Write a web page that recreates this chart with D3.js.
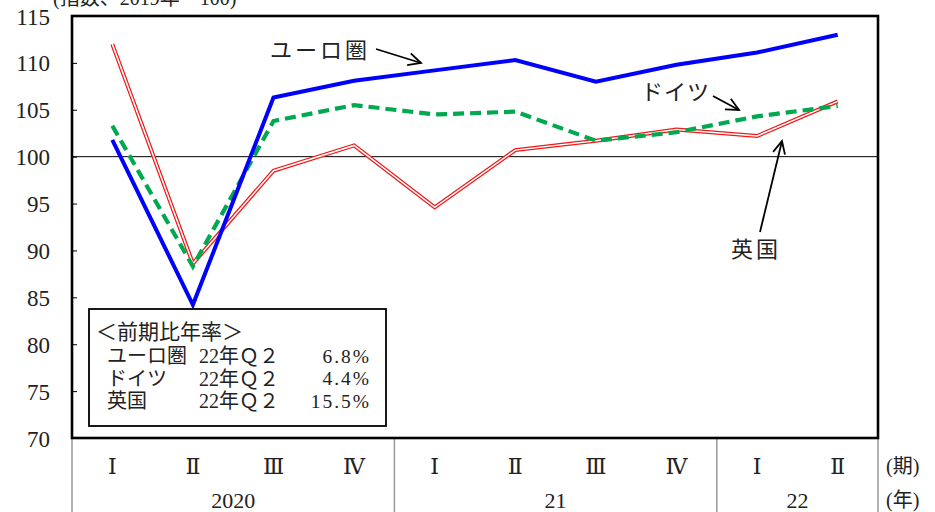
<!DOCTYPE html>
<html><head><meta charset="utf-8">
<script src="https://cdn.jsdelivr.net/npm/d3@7"></script>
<style>
body{margin:0;background:#fff;}
svg{display:block;}
text{font-family:"Liberation Serif","Noto Sans CJK JP",serif;fill:#222;}
.jp{font-family:"Noto Sans CJK JP",sans-serif;}
.mix{font-family:"Liberation Serif","Noto Sans CJK JP",serif;}
.tick text{font-family:"Liberation Serif",serif !important;font-size:23px !important;}
</style></head><body>
<svg id="c" width="935" height="512"></svg>
<script>
const quarters = ["Ⅰ","Ⅱ","Ⅲ","Ⅳ","Ⅰ","Ⅱ","Ⅲ","Ⅳ","Ⅰ","Ⅱ"];
const years = [{label:"2020",from:0,to:3},{label:"21",from:4,to:7},{label:"22",from:8,to:9}];
const euro    = [101.8, 84.2, 106.3, 108.1, 109.2, 110.3, 108.0, 109.8, 111.1, 113.0];
const germany = [103.3, 88.3, 103.8, 105.5, 104.5, 104.8, 101.7, 102.6, 104.3, 105.4];
const uk      = [112.0, 88.6, 98.5, 101.2, 94.6, 100.7, 101.7, 102.9, 102.2, 105.9];
const yTicks = [70,75,80,85,90,95,100,105,110,115];
const legendRows = [
  {name:"ユーロ圏", period:"22年Ｑ２", value:"6.8%"},
  {name:"ドイツ", period:"22年Ｑ２", value:"4.4%"},
  {name:"英国", period:"22年Ｑ２", value:"15.5%"}
];

const svg = d3.select("#c");
const L=72, R=878, T=16, B=438;
const x = d3.scaleBand().domain(d3.range(quarters.length)).range([L,R]).padding(0);
const cx = i => x(i) + x.bandwidth()/2;
const y = d3.scaleLinear().domain([70,115]).range([B,T]);

// y label (partly off top, as in the reference)
svg.append("text").attr("class","mix").attr("x",53).attr("y",5).attr("font-size",20).text("(指数、2019年＝100)");

// 100 line
svg.append("line").attr("x1",L).attr("x2",R).attr("y1",y(100)).attr("y2",y(100)).attr("stroke","#000").attr("stroke-width",1);

// y axis
const ya = svg.append("g").attr("transform",`translate(${L},0)`)
  .call(d3.axisLeft(y).tickValues(yTicks).tickSizeInner(-5).tickSizeOuter(0).tickPadding(22));
ya.attr("font-family",null).attr("font-size",null);
ya.select(".domain").remove();
ya.selectAll(".tick line").attr("stroke","#000");
ya.selectAll(".tick text").attr("fill","#222").attr("dy","0.35em");

// x axis area
const g = svg.append("g");
[L, x(4), x(8), R].forEach(v=>{
  g.append("line").attr("x1",v).attr("x2",v).attr("y1",B).attr("y2",512).attr("stroke","#999").attr("stroke-width",1.5);
});
g.selectAll("text.q").data(quarters).join("text").attr("class","q")
  .attr("x",(d,i)=>cx(i)).attr("y",466).attr("dy","0.35em").attr("text-anchor","middle")
  .attr("font-size",22).style("font-family","'DejaVu Serif',serif").text(d=>d);
g.selectAll("text.yr").data(years).join("text").attr("class","yr")
  .attr("x",d=>(cx(d.from)+cx(d.to))/2).attr("y",500).attr("dy","0.35em").attr("text-anchor","middle")
  .attr("font-size",22).text(d=>d.label);
svg.append("text").attr("class","mix").attr("x",886).attr("y",466).attr("dy","0.35em").attr("font-size",20).text("(期)");
svg.append("text").attr("class","mix").attr("x",886).attr("y",500).attr("dy","0.35em").attr("font-size",20).text("(年)");

// lines
const line = d3.line().x((d,i)=>cx(i)).y(d=>y(d));
svg.append("path").datum(uk).attr("d",line).attr("fill","none").attr("stroke","#f01818").attr("stroke-width",4).attr("stroke-linejoin","miter");
svg.append("path").datum(uk).attr("d",line).attr("fill","none").attr("stroke","#fff").attr("stroke-width",1.5).attr("stroke-linejoin","miter");
svg.append("path").datum(germany).attr("d",line).attr("fill","none").attr("stroke","#00a84f").attr("stroke-width",4.2).attr("stroke-dasharray","11,6");
svg.append("path").datum(euro).attr("d",line).attr("fill","none").attr("stroke","#0000ff").attr("stroke-width",4);

// frame
svg.append("rect").attr("x",L).attr("y",T).attr("width",R-L).attr("height",B-T).attr("fill","none").attr("stroke","#000").attr("stroke-width",2.6);

// annotations
function arrow(x1,y1,x2,y2){
  svg.append("line").attr("x1",x1).attr("y1",y1).attr("x2",x2).attr("y2",y2).attr("stroke","#000").attr("stroke-width",1.8);
  const a=Math.atan2(y2-y1,x2-x1), len=14, sp=0.45;
  const p1=[x2-len*Math.cos(a-sp), y2-len*Math.sin(a-sp)];
  const p2=[x2-len*Math.cos(a+sp), y2-len*Math.sin(a+sp)];
  svg.append("path").attr("d",`M${p1}L${x2},${y2}L${p2}`).attr("fill","none").attr("stroke","#000").attr("stroke-width",1.8);
}
svg.append("text").attr("class","jp").attr("x",270).attr("y",50).attr("dy","0.35em").attr("font-size",22).attr("letter-spacing",3).text("ユーロ圏");
arrow(376,49,421,63);
svg.append("text").attr("class","jp").attr("x",641).attr("y",92).attr("dy","0.35em").attr("font-size",22).attr("letter-spacing",1).text("ドイツ");
arrow(713,96,739,110);
svg.append("text").attr("class","jp").attr("x",731).attr("y",249).attr("dy","0.35em").attr("font-size",22).attr("letter-spacing",3).text("英国");
arrow(760,232,782,141);

// legend box
svg.append("rect").attr("x",89).attr("y",309).attr("width",297).attr("height",117).attr("fill","#fff").attr("stroke","#000").attr("stroke-width",1.8);
svg.append("text").attr("class","mix").attr("x",96).attr("y",332).attr("dy","0.35em").attr("font-size",21).text("＜前期比年率＞");
const lg = svg.selectAll("g.lr").data(legendRows).join("g").attr("class","lr")
  .attr("transform",(d,i)=>`translate(0,${356+i*22.5})`);
lg.append("text").attr("class","mix").attr("x",107).attr("dy","0.35em").attr("font-size",20).text(d=>d.name);
lg.append("text").attr("class","mix").attr("x",199).attr("dy","0.35em").attr("font-size",20).text(d=>d.period);
lg.append("text").attr("class","mix").attr("x",371).attr("dy","0.35em").attr("font-size",19.5).attr("text-anchor","end").attr("letter-spacing",2).text(d=>d.value);
</script>
</body></html>
